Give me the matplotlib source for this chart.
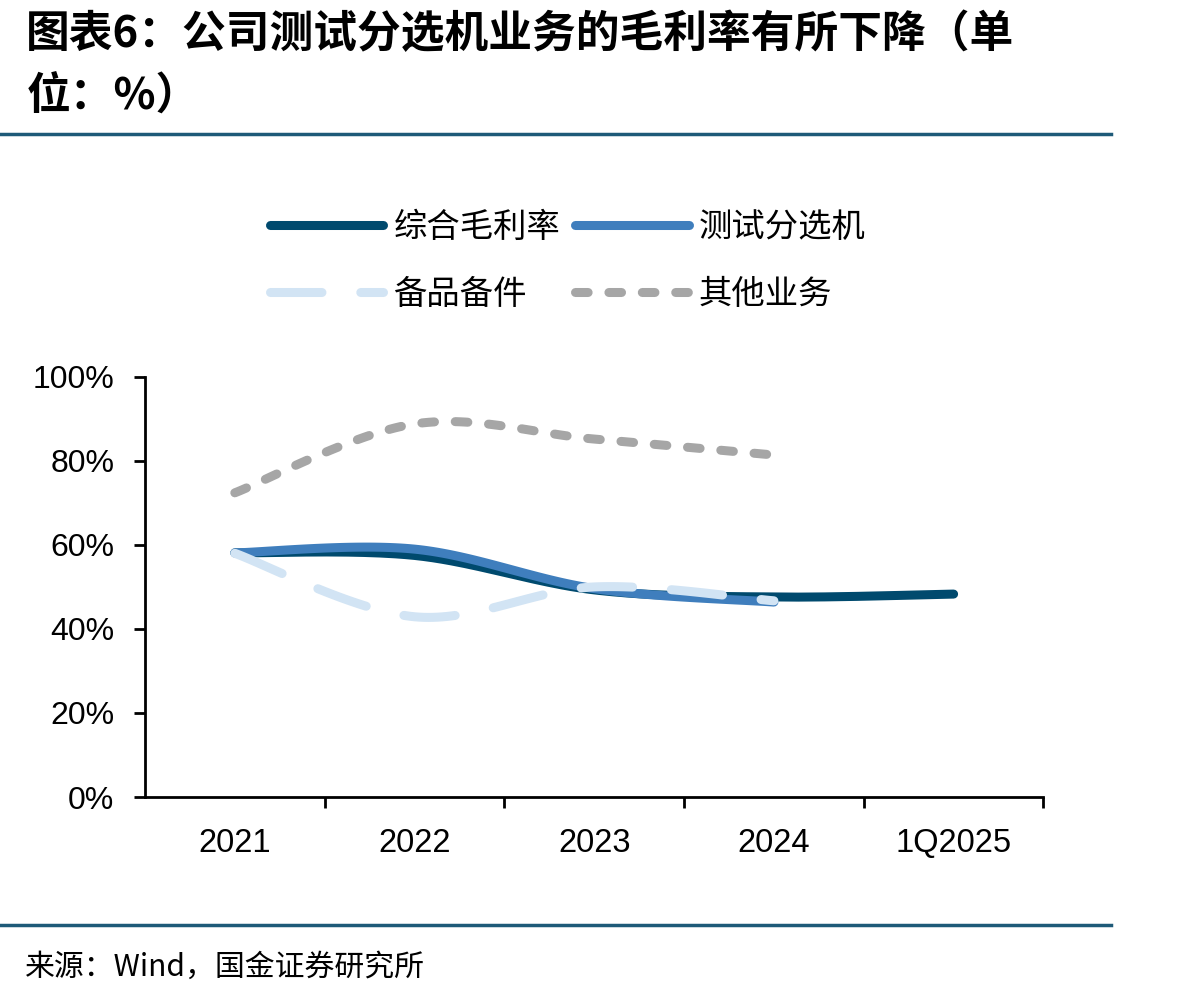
import numpy as np
import matplotlib.pyplot as plt
from matplotlib.lines import Line2D

plt.rcParams['font.family'] = ['Noto Sans CJK SC', 'DejaVu Sans']

# 数据（单位：%）
categories = ['2021', '2022', '2023', '2024', '1Q2025']
gross_total = [58.1, 57.5, 49.3, 47.6, 48.3]      # 综合毛利率
sorter = [58.1, 59.0, 49.6, 46.4]                  # 测试分选机
spare_parts = [58.0, 42.9, 50.0, 46.7]             # 备品备件
other_biz = [72.4, 88.8, 85.2, 81.4]               # 其他业务


def smooth(ys, n=40):
    # Excel 风格的平滑线（贝塞尔，控制点取相邻点差的 1/6）
    xs = np.arange(len(ys), dtype=float)
    pts = np.column_stack([xs, np.asarray(ys, dtype=float)])
    out = []
    for i in range(len(pts) - 1):
        p0 = pts[i - 1] if i > 0 else pts[i]
        p1 = pts[i]
        p2 = pts[i + 1]
        p3 = pts[i + 2] if i + 2 < len(pts) else pts[i + 1]
        c1 = p1 + (p2 - p0) / 6
        c2 = p2 - (p3 - p1) / 6
        t = np.linspace(0, 1, n)[:, None]
        seg = ((1 - t) ** 3) * p1 + 3 * ((1 - t) ** 2) * t * c1 + 3 * (1 - t) * t ** 2 * c2 + t ** 3 * p2
        out.append(seg if i == 0 else seg[1:])
    seg = np.vstack(out)
    return seg[:, 0], seg[:, 1]


c_total = '#004A6E'
c_sorter = '#3F7EBD'
c_spare = '#D2E4F4'
c_other = '#A6A6A6'
lw = 6.5

fig = plt.figure(figsize=(11.98, 9.97), dpi=100)
ax = fig.add_axes([0.121, 0.2006, 0.75, 0.4214])

x, y = smooth(sorter)
ax.plot(x, y, color=c_sorter, lw=lw, solid_capstyle='round', zorder=3)
x, y = smooth(gross_total)
ax.plot(x, y, color=c_total, lw=lw, solid_capstyle='round', zorder=2)
x, y = smooth(spare_parts)
ax.plot(x, y, color=c_spare, lw=lw, linestyle=(0, (5.7, 4.3)), dash_capstyle='round', zorder=4)
x, y = smooth(other_biz)
ax.plot(x, y, color=c_other, lw=lw, linestyle=(0, (1.4, 2.3)), dash_capstyle='round', zorder=4)

num_font = ['Liberation Sans', 'DejaVu Sans']
ax.set_xlim(-0.5, 4.5)
ax.set_ylim(0, 100)
ax.set_yticks(np.arange(0, 101, 20))
ax.set_yticklabels([f'{v}%' for v in range(0, 101, 20)], fontsize=23, family=num_font)
ax.set_xticks(np.arange(len(categories)))
ax.set_xticklabels(categories, fontsize=23.5, family=num_font)
ax.tick_params(axis='x', which='major', length=0, pad=22)
ax.set_xticks(np.arange(0.5, 4.6, 1), minor=True)
ax.tick_params(axis='x', which='minor', length=8, width=2, direction='out')
ax.tick_params(axis='y', length=8, width=2, direction='out', pad=14)
for s in ['top', 'right']:
    ax.spines[s].set_visible(False)
for s in ['left', 'bottom']:
    ax.spines[s].set_linewidth(2)

handles = [
    Line2D([], [], color=c_total, lw=lw, solid_capstyle='round'),
    Line2D([], [], color=c_spare, lw=lw, linestyle=(0, (5.7, 4.3)), dash_capstyle='round'),
    Line2D([], [], color=c_sorter, lw=lw, solid_capstyle='round'),
    Line2D([], [], color=c_other, lw=lw, linestyle=(0, (1.4, 2.3)), dash_capstyle='round'),
]
labels = ['综合毛利率', '备品备件', '测试分选机', '其他业务']
fig.legend(handles, labels, ncol=2, loc='center', bbox_to_anchor=(0.474, 0.7385),
           frameon=False, fontsize=24, handlelength=3.4, handletextpad=0.3,
           columnspacing=0.45, labelspacing=0.97)

fig.text(0.022, 0.966, '图表6：公司测试分选机业务的毛利率有所下降（单', fontsize=31.5,
         fontweight='bold', ha='left', va='center')
fig.text(0.022, 0.904, '位：%）', fontsize=31.5, fontweight='bold', ha='left', va='center')
fig.add_artist(Line2D([0, 0.927], [0.866, 0.866], color='#1E5A78', lw=2.5, transform=fig.transFigure))
fig.add_artist(Line2D([0, 0.927], [0.072, 0.072], color='#1E5A78', lw=2.5, transform=fig.transFigure))
fig.text(0.021, 0.030, '来源：Wind，国金证券研究所', fontsize=21.5, ha='left', va='center')

fig.savefig('out.png', dpi=100)
